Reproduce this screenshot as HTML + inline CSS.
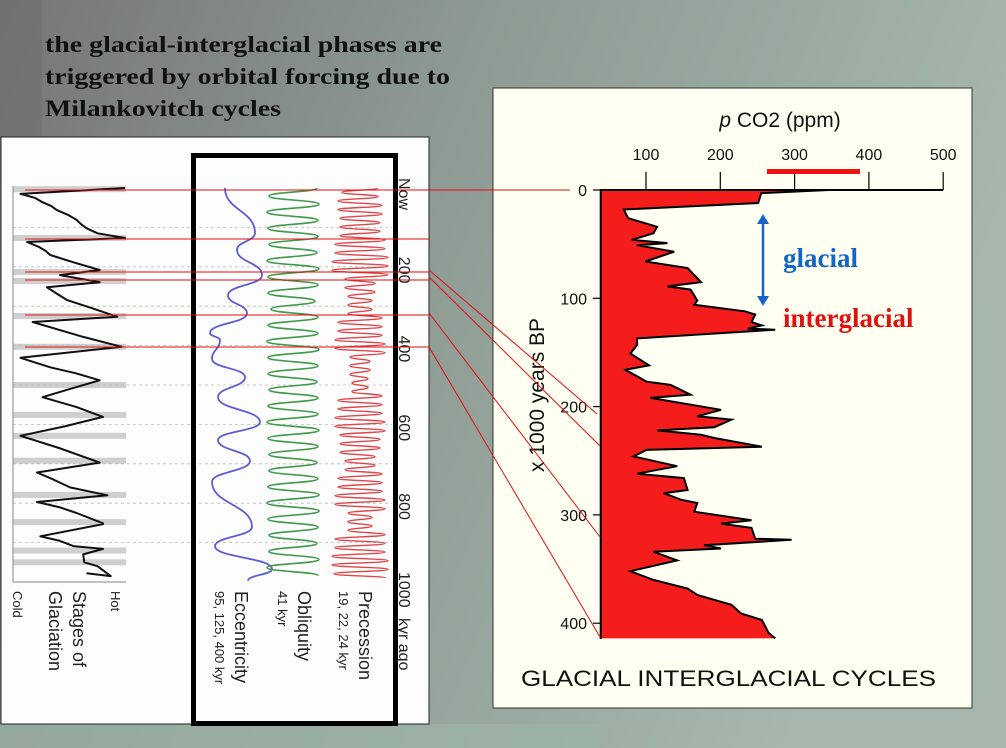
<!DOCTYPE html>
<html><head><meta charset="utf-8"><style>
html,body{margin:0;padding:0;width:1006px;height:748px;overflow:hidden}
svg{display:block}
</style></head><body>
<svg id="s" width="1006" height="748" xmlns="http://www.w3.org/2000/svg" font-family="Liberation Sans, sans-serif">
<defs>
<linearGradient id="bg" x1="0" y1="0" x2="1" y2="0.3">
<stop offset="0" stop-color="#767676"/><stop offset="0.45" stop-color="#8d9a93"/><stop offset="1" stop-color="#a6b8ad"/>
</linearGradient>
</defs>
<rect width="1006" height="748" fill="url(#bg)"/>
<rect x="0" y="724" width="600" height="24" fill="#9db3a6" opacity="0.7"/>
<rect x="0" y="0" width="42" height="137" fill="#6e6e6e" opacity="0.6"/>
<g font-family="Liberation Serif, serif" font-weight="bold" font-size="23" fill="#111">
<text x="45" y="52" textLength="397" lengthAdjust="spacingAndGlyphs">the glacial-interglacial phases are</text>
<text x="45" y="84" textLength="405" lengthAdjust="spacingAndGlyphs">triggered by orbital forcing due to</text>
<text x="45" y="116" textLength="236" lengthAdjust="spacingAndGlyphs">Milankovitch cycles</text>
</g>
<rect x="1" y="137" width="428" height="587" fill="#fdfdfd" stroke="#222" stroke-width="1"/>
<g id="left"></g>
<rect x="193.5" y="155.5" width="202" height="568" fill="none" stroke="#000" stroke-width="5"/>
<rect x="493" y="88" width="479" height="620" fill="#fffff2" stroke="#333" stroke-width="1"/>
<g id="right"></g>
<g id="links"></g>
</svg>
<script>
// ---- CO2 data (kyr BP, ppm as drawn) ----
const co2Kyr=[0,3,12,18,26,34,40,46,49,51,57,66,72,85,89,92,102,106,112,115,122,125,128,129,137,143,151,162,166,172,177,180,189,192,203,209,212,219,222,226,229,237,240,246,255,262,266,277,280,286,289,297,305,308,312,322,323,328,331,334,342,352,360,368,374,383,391,397,409,414];
const co2Ppm=[346,255,251,70,76,115,110,81,129,88,138,99,156,174,129,160,169,165,233,247,242,256,237,274,88,88,79,104,72,88,101,133,160,106,201,169,215,192,115,174,192,256,101,83,142,88,151,156,124,147,169,165,242,201,242,247,296,178,201,110,142,79,110,156,169,215,228,256,265,274];
const xTicks=[100,200,300,400,500];
const yTicks=[0,100,200,300,400];
// ---- glaciation stage (kyr ago, index 0 cold .. 100 hot) ----
const glKyr=[0,15,25,36,46,56,68,81,92,102,115,127,137,150,160,170,190,208,221,239,252,268,284,305,327,340,360,378,403,431,455,470,488,510,531,556,581,605,629,660,697,722,740,760,780,797,810,825,851,853,884,895,909,916,930,950,960,985,978];
const glIdx=[100,5,18,25,33,38,48,56,60,65,75,100,11,22,28,32,55,77,41,77,29,38,47,70,93,16,40,62,97,5,32,55,77,50,25,56,80,45,5,40,77,20,35,50,84,20,40,56,80,80,23,40,53,80,62,63,75,87,65];
const stageBands=[3,127,213,236,325,403,500,576,629,692,779,848,920,950];
// ---- orbital curves (extrema) ----
const eccKyr=[0,114,157,221,272,318,368,386,434,480,531,594,640,693,746,860,909,967,997];
const eccVal=[20,50,32,57,23,42,5,15,7,40,13,55,13,45,7,47,10,67,43];
const oblPeriod=41;
const oblAmp=[24,26,25,24,26,25,22,25,26,25,24,25,26,25,24,25,26,25,24,26,25];
const precPeriod=22;
const precAmp=[18,22,20,25,28,15,12,22,25,10,8,22,25,20,15,22,25,12,25,28,26];

(function(){
const NS='http://www.w3.org/2000/svg';
function mk(parent,tag,attrs){const e=document.createElementNS(NS,tag);for(const k in attrs)e.setAttribute(k,attrs[k]);parent.appendChild(e);return e;}
function txt(parent,x,y,s,attrs){const e=mk(parent,'text',Object.assign({x:x,y:y},attrs||{}));e.textContent=s;return e;}

const R=document.getElementById('right');
const X=v=>646+(v-100)*0.743;
const Y=k=>190+k*1.083;
const pLeft=600.7,pTop=190,pBottom=639;
let d='M'+pLeft+','+Y(co2Kyr[0]);
for(let i=0;i<co2Kyr.length;i++) d+=' L'+X(co2Ppm[i]).toFixed(1)+','+Y(co2Kyr[i]).toFixed(1);
d+=' L'+pLeft+','+Y(co2Kyr[co2Kyr.length-1])+' Z';
const area=mk(R,'path',{d:d,fill:'#f51c1c'});


let ld='';
for(let i=0;i<co2Kyr.length;i++) ld+=(i?' L':'M')+X(co2Ppm[i]).toFixed(1)+','+Y(co2Kyr[i]).toFixed(1);
const line=mk(R,'path',{d:ld,fill:'none',stroke:'#000','stroke-width':2});


const ax=mk(R,'path',{d:`M${X(500)},${pTop} L${pLeft},${pTop} L${pLeft},${pBottom}`,fill:'none',stroke:'#000','stroke-width':2});


xTicks.forEach(v=>{
  const t=mk(R,'line',{x1:X(v),x2:X(v),y1:172,y2:pTop,stroke:'#000','stroke-width':1.2});
  
  
  const l=txt(R,X(v),160,String(v),{'font-size':16,'text-anchor':'middle',fill:'#111'});
  
  
});
yTicks.forEach(v=>{
  const t=mk(R,'line',{x1:593,x2:pLeft,y1:Y(v),y2:Y(v),stroke:'#000','stroke-width':1.2});
  
  
  const l=txt(R,587,Y(v)+6,String(v),{'font-size':16,'text-anchor':'end',fill:'#111'});
  
  
});
const xt=mk(R,'text',{x:780,y:127,'font-size':21,'text-anchor':'middle',fill:'#111'});
const ts1=mk(xt,'tspan',{'font-style':'italic'});ts1.textContent='p';
const ts2=mk(xt,'tspan',{});ts2.textContent=' CO2 (ppm)';


const yt=txt(R,0,0,'x 1000 years BP',{'font-size':21,'text-anchor':'middle',fill:'#111',transform:'translate(544,395) rotate(-90)'});


const ct=txt(R,521,686,'GLACIAL INTERGLACIAL CYCLES',{'font-size':22,fill:'#111',textLength:415,lengthAdjust:'spacingAndGlyphs'});


const rb=mk(R,'rect',{x:767,y:169,width:93,height:5,fill:'#f01010'});


const arr=mk(R,'g',{});


mk(arr,'line',{x1:763,y1:222,x2:763,y2:298,stroke:'#1565c8','stroke-width':2.5});
mk(arr,'path',{d:'M757,224 L763,214 L769,224 Z',fill:'#1565c8'});
mk(arr,'path',{d:'M757,296 L763,306 L769,296 Z',fill:'#1565c8'});
const gl=txt(R,783,267,'glacial',{'font-family':'Liberation Serif, serif','font-weight':'bold','font-size':27,fill:'#1565c8'});


const ig=txt(R,783,327,'interglacial',{'font-family':'Liberation Serif, serif','font-weight':'bold','font-size':27,fill:'#e01010'});



const L=document.getElementById('left');
const KY=k=>188+k*0.394;
stageBands.forEach(k=>{
  const b=mk(L,'rect',{x:13,y:KY(k)-3,width:113,height:6,fill:'#cfcfcf'});
  
  
});
for(let k=100;k<1000;k+=100){
  const g=mk(L,'line',{x1:13,x2:392,y1:KY(k),y2:KY(k),stroke:'#bbb','stroke-width':0.8,'stroke-dasharray':'3,3'});
  
  
}
const gax=mk(L,'path',{d:`M13,186 L13,${KY(1000)} L126,${KY(1000)}`,fill:'none',stroke:'#888','stroke-width':1});


let gd='';
glKyr.forEach((k,i)=>{gd+=(i?' L':'M')+(15+glIdx[i]*1.1).toFixed(1)+','+KY(k).toFixed(1);});
const gp=mk(L,'path',{d:gd,fill:'none',stroke:'#111','stroke-width':2,'stroke-linejoin':'round'});


function smooth(xs,ys){let s='M'+xs[0]+','+ys[0];for(let i=1;i<xs.length;i++){const my=(ys[i-1]+ys[i])/2;s+=` C${xs[i-1]},${my} ${xs[i]},${my} ${xs[i]},${ys[i]}`;}return s;}
const ep=mk(L,'path',{d:smooth(eccVal.map(v=>205+v),eccKyr.map(KY)),fill:'none',stroke:'#5b5bd6','stroke-width':1.8});


function osc(period,amps,cx){
  const xs=[],ys=[];let sgn=1;
  for(let k=0;k<=1000;k+=period/2){const a=amps[Math.min(amps.length-1,Math.round(k/50))];xs.push(cx+sgn*a);ys.push(KY(k));sgn=-sgn;}
  return smooth(xs,ys);
}
const op=mk(L,'path',{d:osc(oblPeriod,oblAmp,293),fill:'none',stroke:'#3f9a4a','stroke-width':1.6});


const pp=mk(L,'path',{d:osc(precPeriod,precAmp,360),fill:'none',stroke:'#e0454a','stroke-width':1.4});


const tl=[['Now',0],['200',200],['400',400],['600',600],['800',800],['1000',1000]];
tl.forEach(t=>{
  const e=txt(L,0,0,t[0],{'font-size':16,fill:'#222','text-anchor':'start',transform:`translate(399,${KY(t[1])-10}) rotate(90)`});
  
  
});
const ka=txt(L,0,0,'kyr ago',{'font-size':16,fill:'#222',transform:`translate(399,${KY(1000)+36}) rotate(90)`});


const labs=[['Hot',111,591,13,'hot-label'],['Stages of',73,591,18,'stages-label'],['Glaciation',49,591,18,'glaciation-label'],['Cold',13,591,13,'cold-label'],
['Eccentricity',235,591,18,'eccentricity-label'],['95, 125, 400 kyr',215,591,13,'eccentricity-periods'],
['Obliquity',298,591,18,'obliquity-label'],['41 kyr',278,591,13,'obliquity-period'],
['Precession',359,591,18,'precession-label'],['19, 22, 24 kyr',339,591,13,'precession-periods']];
labs.forEach(l=>{
  const e=txt(L,0,0,l[0],{'font-size':l[3],fill:'#222',transform:`translate(${l[1]},${l[2]}) rotate(90)`});
  
  
});

const K=document.getElementById('links');
const hy=[190,239,272,280,315,347];
hy.forEach(y=>{
  const h=mk(K,'line',{x1:25,x2:429,y1:y,y2:y,stroke:'#e01010','stroke-width':1});
  
  
});
const segs=[[429,190,570,190],[429,270,597,414],[429,277,600,446],[429,313,600,537],[429,347,600,637]];
segs.forEach(s=>{
  const e=mk(K,'line',{x1:s[0],y1:s[1],x2:s[2],y2:s[3],stroke:'#e01010','stroke-width':1});
  
  
});
})();
</script>
</body></html>
